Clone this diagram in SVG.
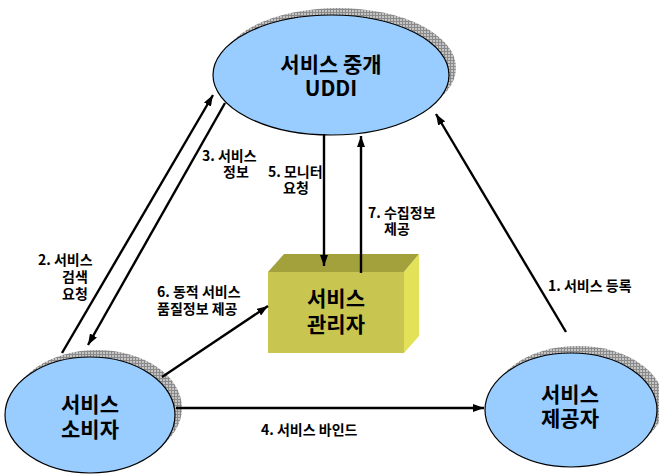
<svg xmlns="http://www.w3.org/2000/svg" width="659" height="474" viewBox="0 0 659 474">
  <style>
    .node { fill: #99ccff; stroke: #000; stroke-width: 1.2; }
    .shadow { fill: url(#hatch); }
    .conn { stroke: #000; stroke-width: 2.4; fill: none; marker-end: url(#arrow); }
    .title { font-family: "Noto Sans CJK KR", "Noto Sans", sans-serif; font-weight: 700; font-size: 21px; fill: #000; text-anchor: middle; }
    .lbl { font-family: "Noto Sans CJK KR", "Noto Sans", sans-serif; font-weight: 700; font-size: 14px; fill: #000; }
  </style>
  <defs>
    <pattern id="hatch" width="3" height="3" patternUnits="userSpaceOnUse">
      <rect width="3" height="3" fill="#c4c4c4"/>
      <path d="M0,0.5 H3 M0.5,0 V3" stroke="#8a8a8a" stroke-width="1"/>
    </pattern>
    <marker id="arrow" viewBox="0 0 11 8" refX="11" refY="4" markerWidth="11" markerHeight="8" markerUnits="userSpaceOnUse" orient="auto">
      <path d="M0,0 L11,4 L0,8 z" fill="#000"/>
    </marker>
  </defs>

  <rect width="659" height="474" fill="#fff"/>

  <!-- service registry -->
  <g id="node-uddi">
    <ellipse class="shadow" cx="338" cy="68" rx="118" ry="60"/>
    <ellipse class="node" cx="331" cy="75" rx="118" ry="60"/>
    <text class="title" x="331" y="72">서비스 중개<tspan x="331" y="96">UDDI</tspan></text>
  </g>

  <!-- service manager box -->
  <g id="node-manager">
    <polygon points="268,272 284,254 419,254 404,272" fill="#a3a13c"/>
    <polygon points="404,272 419,254 419,336 404,353" fill="#e2e158"/>
    <rect x="268" y="272" width="136" height="81" fill="#c8c650"/>
    <text class="title" x="336" y="306">서비스<tspan x="336" y="332">관리자</tspan></text>
  </g>

  <!-- service consumer -->
  <g id="node-consumer">
    <ellipse class="shadow" cx="97" cy="408" rx="85" ry="58"/>
    <ellipse class="node" cx="90" cy="415" rx="85" ry="58"/>
    <text class="title" x="90" y="412">서비스<tspan x="90" y="437">소비자</tspan></text>
  </g>

  <!-- service provider -->
  <g id="node-provider">
    <ellipse class="shadow" cx="578" cy="403" rx="86" ry="57"/>
    <ellipse class="node" cx="571" cy="410" rx="86" ry="57"/>
    <text class="title" x="570" y="402">서비스<tspan x="570" y="426">제공자</tspan></text>
  </g>

  <!-- connectors -->
  <g id="connectors">
    <line class="conn" x1="566" y1="332" x2="436" y2="114"/>
    <line class="conn" x1="62" y1="353" x2="213" y2="95"/>
    <line class="conn" x1="225" y1="103" x2="88" y2="345"/>
    <line class="conn" x1="324" y1="134" x2="324" y2="266"/>
    <line class="conn" x1="361" y1="273" x2="361" y2="136"/>
    <line class="conn" x1="162" y1="377" x2="268" y2="306"/>
    <line class="conn" x1="176" y1="408" x2="484" y2="408"/>
  </g>

  <!-- connector labels -->
  <g id="labels">
    <text class="lbl" x="548" y="291">1. 서비스 등록</text>
    <text class="lbl" x="38" y="265">2. 서비스<tspan x="62" y="282">검색</tspan><tspan x="62" y="299">요청</tspan></text>
    <text class="lbl" x="202" y="161">3. 서비스<tspan x="223" y="177">정보</tspan></text>
    <text class="lbl" x="261" y="435">4. 서비스 바인드</text>
    <text class="lbl" x="268" y="177">5. 모니터<tspan x="283" y="193">요청</tspan></text>
    <text class="lbl" x="157" y="297">6. 동적 서비스<tspan x="157" y="314">품질정보 제공</tspan></text>
    <text class="lbl" x="368" y="218">7. 수집정보<tspan x="384" y="234">제공</tspan></text>
  </g>
</svg>
